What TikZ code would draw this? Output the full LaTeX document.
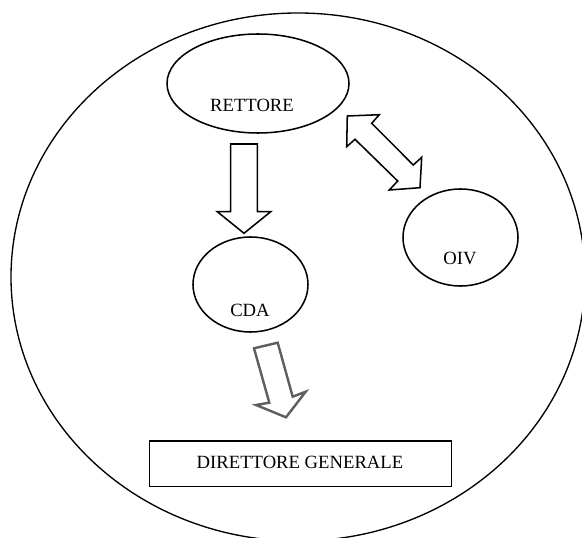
\documentclass[tikz,border=0pt]{standalone}
\usepackage{fontspec}
\setmainfont{Liberation Serif}
\usetikzlibrary{shapes.geometric}
\definecolor{arrgray}{HTML}{5E5E5E}
\begin{document}
\begin{tikzpicture}[x=0.75pt,y=-0.75pt,
  shapeline/.style={draw=black,line width=1.15pt},
  oval/.style={shapeline,ellipse,inner sep=0pt},
  lbl/.style={font=\fontsize{14}{16}\selectfont,inner sep=0pt,anchor=center},
  blockarrow/.style={shapeline,line join=miter,fill=white},
  grayarrow/.style={draw=arrgray,line width=1.8pt,line join=miter,fill=white}]
\useasboundingbox (0,0) rectangle (582,538);
\fill[white] (0,0) rectangle (582,538);
\begin{scope}
\clip (0,0) rectangle (582,538);
\draw[line width=1pt] (298,277) ellipse [x radius=215.25pt, y radius=198pt];
\end{scope}
% nodes
\node[oval,minimum width=136.5pt,minimum height=74.25pt] (rett) at (258,83.5) {};
\node[lbl] (rettT) at (252,105) {RETTORE};
\node[oval,minimum width=86.25pt,minimum height=71.25pt] (cda) at (250.5,284.5) {};
\node[lbl] (cdaT) at (250,310) {CDA};
\node[oval,minimum width=86.25pt,minimum height=72.75pt] (oiv) at (460.5,237.5) {};
\node[lbl] (oivT) at (460,258) {OIV};
\node[shapeline,rectangle,minimum width=226.5pt,minimum height=34.1pt,inner sep=0pt] (dg) at (300.5,463.75) {};
\node[lbl] (dgT) at (300,462.5) {DIRETTORE GENERALE};
% down arrow RETTORE -> CDA
\draw[blockarrow] (230.7,144) -- (257.3,144) -- (257.3,211.7) -- (270.7,211.7)
  -- (244,233.3) -- (217.3,211.7) -- (230.7,211.7) -- cycle;
% double arrow RETTORE <-> OIV
\draw[blockarrow] (347.3,116) -- (379.3,114.7) -- (371.7,123.3) -- (413.3,165)
  -- (421.7,157.3) -- (420,187.7) -- (389.3,190) -- (397.7,181)
  -- (355,139.3) -- (346.7,146.7) -- cycle;
% gray arrow CDA -> DG
\draw[grayarrow] (254,348.3) -- (277.7,342.7) -- (292.7,396.7) -- (305.7,391.7)
  -- (286,417.3) -- (256,405) -- (269.3,402.7) -- cycle;
\end{tikzpicture}
\end{document}
